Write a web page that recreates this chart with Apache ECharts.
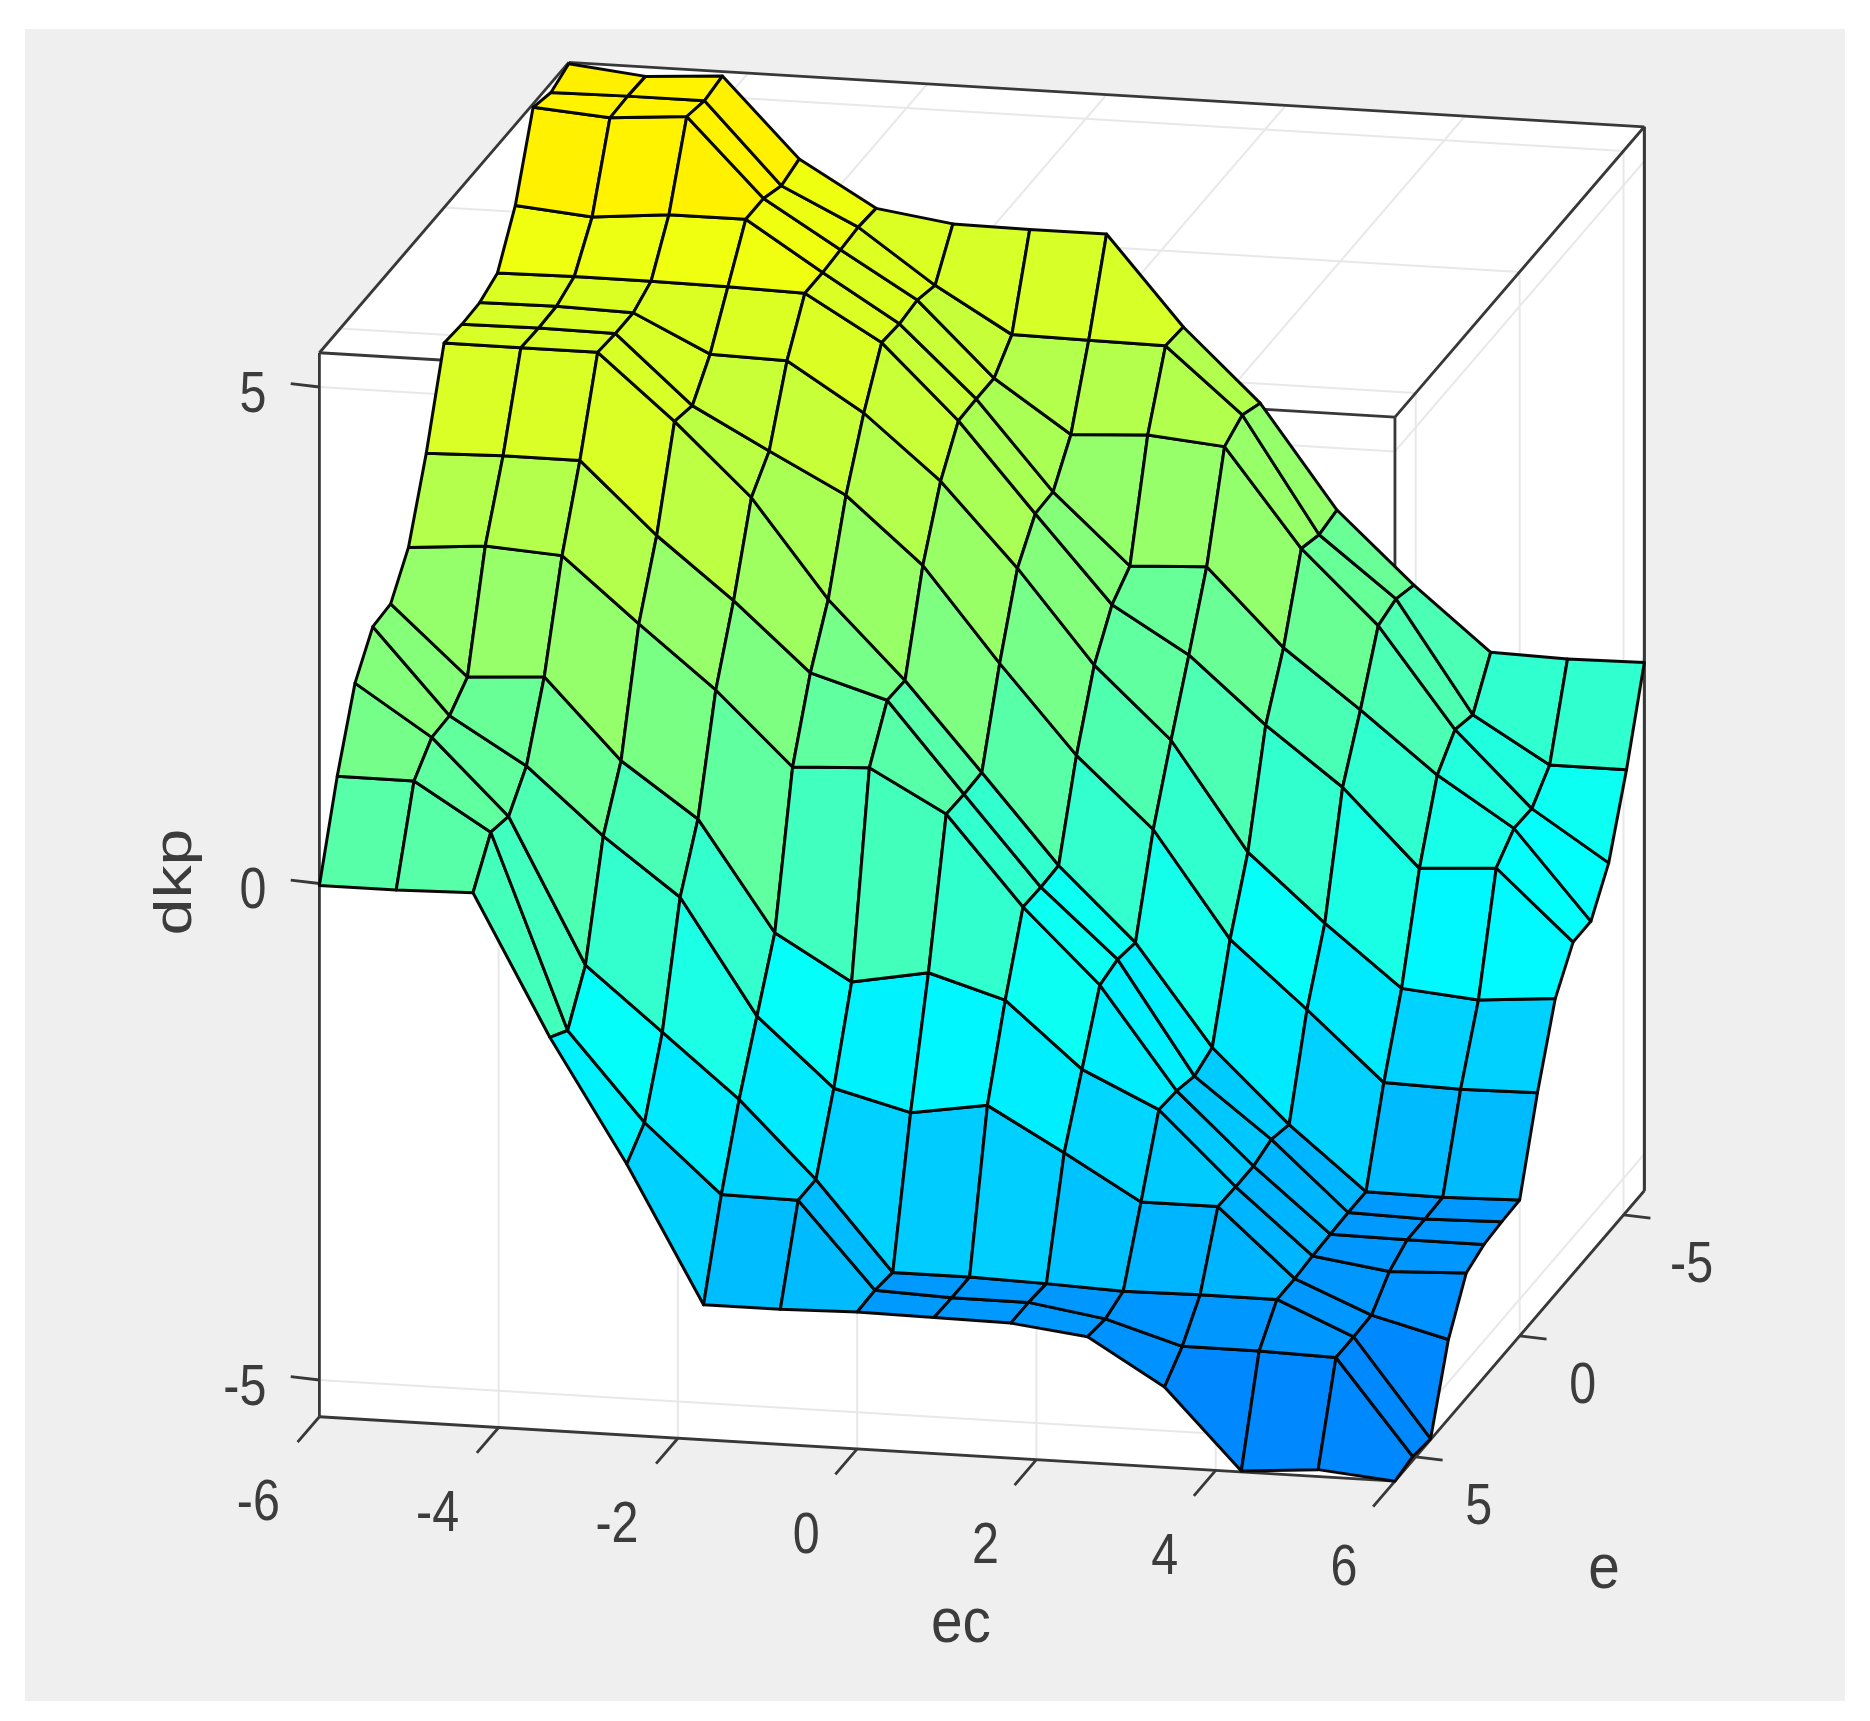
<!DOCTYPE html>
<html>
<head>
<meta charset="utf-8">
<script src="https://cdn.jsdelivr.net/npm/echarts@6/dist/echarts.min.js"></script>
<style>
html,body{margin:0;padding:0;background:#fff}
#c{width:1870px;height:1721px;filter:blur(0.7px)}
</style>
</head>
<body>
<div id="c"></div>
<script>
// ---------- data ----------
const ecValues = [-6,-5.143,-4.286,-3.429,-2.571,-1.714,-0.857,0,0.857,1.714,2.571,3.429,4.286,5.143,6];
const eValues = [6,5.143,4.286,3.429,2.571,1.714,0.857,0,-0.857,-1.714,-2.571,-3.429,-4.286,-5.143,-6];
// one list per ec value, running along e from +6 to -6
const dkpEc0  = [-0.02,0.87,1.60,1.96,1.98,2.34,3.08,3.98,3.96,3.97,4.06,4.53,5.31,5.25,5.33];
const dkpEc1  = [-0.02,0.87,1.10,1.11,1.29,2.40,3.10,3.98,3.97,3.98,4.07,4.46,5.25,5.26,5.25];
const dkpEc2  = [0.00,0.40,0.35,0.65,1.34,2.35,3.10,3.98,3.96,3.96,4.07,4.53,5.31,5.26,5.30];
const dkpEc3  = [-1.41,-1.55,-1.10,-0.01,0.54,1.71,2.39,3.33,3.28,3.59,4.06,4.53,4.53,4.45,4.51];
const dkpEc4  = [-2.64,-2.43,-1.73,-0.58,0.00,1.09,1.78,2.61,2.87,3.57,4.04,4.04,4.06,4.08,4.06];
const dkpEc5  = [-4.01,-3.11,-2.36,-1.73,-1.10,0.36,1.10,1.63,2.47,3.09,3.59,3.57,3.60,3.54,3.95];
const dkpEc6  = [-4.01,-3.12,-3.12,-2.41,-1.55,0.40,0.87,0.86,1.81,2.45,2.85,2.86,2.86,3.09,3.94];
const dkpEc7  = [-3.99,-3.98,-4.01,-2.61,-1.41,-0.02,-0.03,-0.02,0.87,1.62,1.96,1.97,2.34,3.08,3.94];
const dkpEc8  = [-4.00,-4.01,-4.01,-2.49,-1.64,-0.91,-0.92,-0.91,-0.01,0.69,1.09,1.27,2.38,3.07,3.05];
const dkpEc9  = [-4.01,-4.01,-4.03,-2.92,-2.29,-1.65,-1.60,-1.64,-0.71,-0.02,0.63,1.31,2.31,2.42,2.33];
const dkpEc10 = [-4.10,-4.13,-4.06,-3.37,-2.65,-2.67,-2.73,-2.65,-1.77,-1.10,-0.03,0.54,1.33,1.26,1.30];
const dkpEc11 = [-4.56,-4.36,-4.05,-3.37,-3.38,-3.38,-3.32,-3.38,-2.43,-1.77,-0.61,-0.04,0.60,0.66,0.59];
const dkpEc12 = [-5.36,-4.36,-4.05,-4.05,-4.03,-4.02,-4.01,-4.01,-3.12,-2.38,-1.38,-0.65,-0.40,-0.46,-0.04];
const dkpEc13 = [-5.30,-4.38,-4.38,-4.37,-4.14,-4.03,-4.03,-4.02,-3.14,-2.45,-1.33,-1.14,-1.15,-0.92,-0.06];
const dkpEc14 = [-5.37,-5.33,-5.36,-4.57,-4.11,-4.03,-4.01,-4.00,-3.13,-2.39,-2.03,-2.03,-1.65,-0.92,-0.05];
const dkpGrid = [dkpEc0,dkpEc1,dkpEc2,dkpEc3,dkpEc4,dkpEc5,dkpEc6,dkpEc7,dkpEc8,dkpEc9,dkpEc10,dkpEc11,dkpEc12,dkpEc13,dkpEc14];

const ecTicks = [-6,-4,-2,0,2,4,6];
const eTicks = [5,0,-5];
const dkpTicks = [5,0,-5];
const ecRange = [-6,6];
const eRange = [-6,6];
const dkpRange = [-5.37,5.345];

// colour scale of the surface
const colorStops = [-4.4,-3.4,-2.4,-1.2,4.9,5.4];
const colorValues = [[0,135,255],[0,180,255],[0,210,255],[0,255,255],[255,255,0],[255,238,0]];

// ---------- oblique view of the box ----------
function project(ec, e, z) {
  return [
    319.4 + 89.63 * (ec + 6) + 20.78 * (6 - e),
    883.5 + 5.37 * (ec + 6) - 24.2 * (6 - e) - 99.3 * z
  ];
}
function colorOf(z) {
  let k = 0;
  if (z <= colorStops[0]) k = 0;
  else { while (k < colorStops.length - 2 && z > colorStops[k + 1]) k++; }
  const t = Math.min(1, Math.max(0, (z - colorStops[k]) / (colorStops[k + 1] - colorStops[k])));
  const a = colorValues[k], b = colorValues[k + 1];
  return 'rgb(' + [0,1,2].map(n => Math.round(a[n] + (b[n] - a[n]) * t)).join(',') + ')';
}

// ---------- tables built from the arrays ----------
const faces = [];
for (let j = 0; j < eValues.length - 1; j++) {
  for (let i = 0; i < ecValues.length - 1; i++) {
    faces.push([
      ecValues[i], ecValues[i + 1], eValues[j], eValues[j + 1],
      dkpGrid[i][j], dkpGrid[i + 1][j], dkpGrid[i + 1][j + 1], dkpGrid[i][j + 1]
    ]);
  }
}
const [xa, xb] = ecRange, [ya, yb] = eRange, [za, zb] = dkpRange;
const walls = [
  [xa,yb,za, xb,yb,za, xb,yb,zb, xa,yb,zb],
  [xb,yb,za, xb,ya,za, xb,ya,zb, xb,yb,zb],
  [xa,yb,zb, xb,yb,zb, xb,ya,zb, xa,ya,zb]
];
const gridLines = [];
ecTicks.slice(1, -1).forEach(x => {
  gridLines.push([x,yb,za, x,yb,zb]);
  gridLines.push([x,yb,zb, x,ya,zb]);
});
eTicks.forEach(y => {
  gridLines.push([xb,y,za, xb,y,zb]);
  gridLines.push([xa,y,zb, xb,y,zb]);
});
dkpTicks.forEach(z => {
  gridLines.push([xa,yb,z, xb,yb,z]);
  gridLines.push([xb,yb,z, xb,ya,z]);
});
const boxLines = [
  [xa,yb,za, xb,yb,za], [xb,yb,za, xb,ya,za], [xb,ya,za, xb,ya,zb],
  [xa,yb,za, xa,yb,zb], [xa,yb,zb, xb,yb,zb], [xb,yb,za, xb,yb,zb],
  [xa,yb,zb, xa,ya,zb], [xa,ya,zb, xb,ya,zb], [xb,yb,zb, xb,ya,zb], [xb,ya,zb, xb,ya,za]
];
const tickLines = [];
ecTicks.forEach(x => tickLines.push([x,yb,za, x,yb + 1.05,za]));
eTicks.forEach(y => tickLines.push([xb,y,za, xb + 0.3,y,za - 0.016]));
dkpTicks.forEach(z => tickLines.push([xa,yb,z, xa - 0.32,yb,z + 0.017]));

const FONT = '"Liberation Sans", Arial, sans-serif';
const INK = '#3c3c3c';
const labels = [];
ecTicks.forEach(x => labels.push({ p: project(x,yb,za), dx: x < 0 ? -61 : -51, dy: 88, text: String(x), align: 'center', size: 57, sx: 0.85 }));
eTicks.forEach(y => labels.push({ p: project(xb,y,za), dx: y < 0 ? 68 : 63, dy: 51, text: String(y), align: 'center', size: 57, sx: 0.85 }));
dkpTicks.forEach(z => labels.push({ p: project(xa,yb,z), dx: -53, dy: 9, text: String(z), align: 'right', size: 57, sx: 0.85 }));
labels.push({ p: [961,1625], dx: 0, dy: 0, text: 'ec', align: 'center', size: 63, sx: 0.9 });
labels.push({ p: [1604,1571], dx: 0, dy: 0, text: 'e', align: 'center', size: 63, sx: 0.9 });
labels.push({ p: [177,882], dx: 0, dy: 0, text: 'dkp', align: 'center', size: 51, sx: 1.3, rot: Math.PI / 2 });

const panelRect = [25, 29, 1845, 1701];

// ---------- helpers for the custom series ----------
function lineSeries(rows, stroke, width) {
  return {
    type: 'custom', coordinateSystem: 'cartesian2d', silent: true, clip: false, animation: false,
    data: rows,
    encode: { x: [], y: [] },
    renderItem(params, api) {
      const a = project(api.value(0), api.value(1), api.value(2));
      const b = project(api.value(3), api.value(4), api.value(5));
      const p = api.coord(a), q = api.coord(b);
      return { type: 'line', shape: { x1: p[0], y1: p[1], x2: q[0], y2: q[1] },
        style: { stroke, lineWidth: width, lineCap: 'butt' } };
    }
  };
}

const chart = echarts.init(document.getElementById('c'), null, { renderer: 'canvas' });
chart.setOption({
  animation: false,
  backgroundColor: '#ffffff',
  grid: { left: 0, right: 0, top: 0, bottom: 0 },
  xAxis: { type: 'value', min: 0, max: 1870, show: false },
  yAxis: { type: 'value', min: 0, max: 1721, inverse: true, show: false },
  series: [
    { // figure panel
      type: 'custom', coordinateSystem: 'cartesian2d', silent: true, clip: false, animation: false,
      data: [panelRect], encode: { x: [], y: [] },
      renderItem(params, api) {
        const p = api.coord([api.value(0), api.value(1)]);
        const q = api.coord([api.value(2), api.value(3)]);
        return { type: 'rect', shape: { x: p[0], y: p[1], width: q[0] - p[0], height: q[1] - p[1] },
          style: { fill: '#efefef' } };
      }
    },
    { // white box walls
      type: 'custom', coordinateSystem: 'cartesian2d', silent: true, clip: false, animation: false,
      data: walls, encode: { x: [], y: [] },
      renderItem(params, api) {
        const pts = [0,3,6,9].map(k => api.coord(project(api.value(k), api.value(k + 1), api.value(k + 2))));
        return { type: 'polygon', shape: { points: pts }, style: { fill: '#ffffff' } };
      }
    },
    lineSeries(gridLines, '#e8e8e8', 2),
    lineSeries(boxLines, '#383838', 2.8),
    lineSeries(tickLines, '#383838', 2.8),
    { // the dkp surface
      type: 'custom', coordinateSystem: 'cartesian2d', silent: true, clip: false, animation: false,
      data: faces, encode: { x: [], y: [] },
      renderItem(params, api) {
        const x0 = api.value(0), x1 = api.value(1), y0 = api.value(2), y1 = api.value(3);
        const z00 = api.value(4), z10 = api.value(5), z11 = api.value(6), z01 = api.value(7);
        const pts = [
          api.coord(project(x0, y0, z00)), api.coord(project(x1, y0, z10)),
          api.coord(project(x1, y1, z11)), api.coord(project(x0, y1, z01))
        ];
        return { type: 'polygon', shape: { points: pts },
          style: { fill: colorOf(z01), stroke: '#080808', lineWidth: 3, lineJoin: 'round' } };
      }
    },
    { // tick labels and axis names
      type: 'custom', coordinateSystem: 'cartesian2d', silent: true, clip: false, animation: false,
      data: labels.map((l, i) => [i]), encode: { x: [], y: [] },
      renderItem(params, api) {
        const l = labels[api.value(0)];
        const c = api.coord([l.p[0] + l.dx, l.p[1] + l.dy]);
        return { type: 'text', x: c[0], y: c[1], rotation: l.rot || 0, scaleX: l.sx, scaleY: 1,
          style: { text: l.text, fontFamily: FONT, fontSize: l.size, fill: INK,
            align: l.align, verticalAlign: 'middle', textAlign: l.align, textVerticalAlign: 'middle' } };
      }
    }
  ]
});
</script>
</body>
</html>
